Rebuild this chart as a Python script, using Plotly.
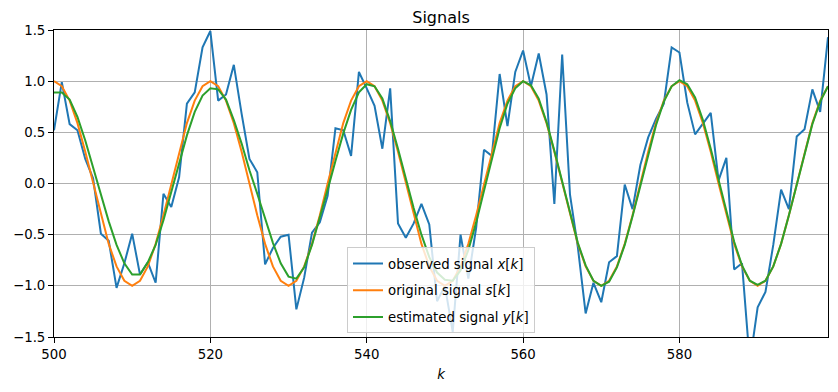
import plotly.graph_objects as go

k = list(range(500, 600))

observed = [
    0.52, 0.99, 0.58, 0.52, 0.24, 0.05, -0.49, -0.56, -1.02, -0.78,
    -0.49, -0.89, -0.77, -0.97, -0.10, -0.23, 0.06, 0.78, 0.89, 1.33,
    1.49, 0.81, 0.87, 1.16, 0.68, 0.24, 0.11, -0.79, -0.63, -0.52,
    -0.50, -1.23, -0.92, -0.48, -0.38, -0.12, 0.54, 0.52, 0.27, 1.09,
    0.93, 0.76, 0.34, 0.93, -0.39, -0.53, -0.39, -0.20, -0.40, -1.15,
    -1.00, -1.45, -0.50, -0.93, -0.43, 0.33, 0.27, 1.07, 0.56, 1.09,
    1.30, 0.95, 1.27, 0.87, -0.20, 1.26, -0.11, -0.62, -1.27, -0.97,
    -1.16, -0.77, -0.71, -0.01, -0.25, 0.18, 0.45, 0.63, 0.78, 1.33,
    1.28, 0.79, 0.48, 0.59, 0.69, 0.03, 0.25, -0.84, -0.78, -1.75,
    -1.21, -1.06, -0.60, -0.06, -0.25, 0.46, 0.53, 0.92, 0.70, 1.43,
]

original = [
    1.00, 0.95, 0.81, 0.59, 0.31, 0.00, -0.31, -0.59, -0.81, -0.95,
    -1.00, -0.95, -0.81, -0.59, -0.31, 0.00, 0.31, 0.59, 0.81, 0.95,
    1.00, 0.95, 0.81, 0.59, 0.31, 0.00, -0.31, -0.59, -0.81, -0.95,
    -1.00, -0.95, -0.81, -0.59, -0.31, 0.00, 0.31, 0.59, 0.81, 0.95,
    1.00, 0.95, 0.81, 0.59, 0.31, 0.00, -0.31, -0.59, -0.81, -0.95,
    -1.00, -0.95, -0.81, -0.59, -0.31, 0.00, 0.31, 0.59, 0.81, 0.95,
    1.00, 0.95, 0.81, 0.59, 0.31, 0.00, -0.31, -0.59, -0.81, -0.95,
    -1.00, -0.95, -0.81, -0.59, -0.31, 0.00, 0.31, 0.59, 0.81, 0.95,
    1.00, 0.95, 0.81, 0.59, 0.31, 0.00, -0.31, -0.59, -0.81, -0.95,
    -1.00, -0.95, -0.81, -0.59, -0.31, 0.00, 0.31, 0.59, 0.81, 0.95,
]

estimated = [
    0.89, 0.89, 0.82, 0.65, 0.42, 0.16, -0.11, -0.37, -0.60, -0.78,
    -0.89, -0.89, -0.77, -0.60, -0.36, -0.09, 0.20, 0.47, 0.70, 0.86,
    0.93, 0.92, 0.82, 0.62, 0.39, 0.13, -0.10, -0.35, -0.58, -0.78,
    -0.91, -0.93, -0.82, -0.60, -0.34, -0.06, 0.22, 0.49, 0.72, 0.89,
    0.97, 0.95, 0.83, 0.61, 0.34, 0.05, -0.24, -0.50, -0.72, -0.87,
    -0.94, -0.95, -0.85, -0.65, -0.38, -0.07, 0.25, 0.54, 0.78, 0.93,
    1.00, 0.96, 0.83, 0.60, 0.32, 0.01, -0.30, -0.58, -0.80, -0.95,
    -1.00, -0.96, -0.82, -0.60, -0.32, -0.02, 0.29, 0.57, 0.80, 0.95,
    1.01, 0.97, 0.84, 0.62, 0.34, 0.03, -0.29, -0.57, -0.80, -0.95,
    -0.99, -0.95, -0.81, -0.59, -0.31, -0.01, 0.30, 0.58, 0.80, 0.95,
]

names = [
    "observed signal <i>x</i>[<i>k</i>]",
    "original signal <i>s</i>[<i>k</i>]",
    "estimated signal <i>y</i>[<i>k</i>]",
]
colors = ["#1f77b4", "#ff7f0e", "#2ca02c"]
x_ticks = [500, 520, 540, 560, 580]
y_ticks = [-1.5, -1.0, -0.5, 0.0, 0.5, 1.0, 1.5]

fig = go.Figure()
for i, (series, name, color) in enumerate(zip([observed, original, estimated], names, colors)):
    fig.add_trace(go.Scatter(
        x=k, y=series, mode="lines", name=name, legendgroup=f"g{i}",
        line=dict(color=color, width=2),
    ))

FONT = "DejaVu Sans"
axis_common = dict(
    showline=True, linecolor="black", linewidth=1, mirror=True,
    ticks="outside", ticklen=5, tickwidth=1, tickcolor="black",
    showgrid=True, gridcolor="#b0b0b0", gridwidth=1, zeroline=False,
    tickfont=dict(family=FONT, size=13.3, color="black"),
    automargin=False,
)

fig.update_layout(
    width=838, height=392,
    margin=dict(l=54, r=10, t=30, b=55, pad=0),
    paper_bgcolor="white", plot_bgcolor="white",
    font=dict(family=FONT, size=13.3, color="black"),
    title=dict(text="Signals", x=0.5, xref="paper", xanchor="center",
               y=1 - 17 / 392, yref="container", yanchor="middle",
               font=dict(family=FONT, size=16, color="black")),
    xaxis=dict(range=[500, 599], tickvals=x_ticks, title=dict(text="<i>k</i>", standoff=8,
               font=dict(family=FONT, size=13.3)), **axis_common),
    yaxis=dict(range=[-1.5, 1.5], tickvals=y_ticks, tickformat=".1f", **axis_common),
    legend=dict(x=0.5, xanchor="center", y=0.012, yanchor="bottom",
                bgcolor="rgba(255,255,255,0.8)", bordercolor="#cccccc", borderwidth=1,
                font=dict(family=FONT, size=13.3), tracegroupgap=6.5, itemwidth=30),
    showlegend=True,
)

fig.write_html("out.html", config={"displayModeBar": False},
               post_script="document.body.style.margin='0';document.body.style.overflow='hidden';")
